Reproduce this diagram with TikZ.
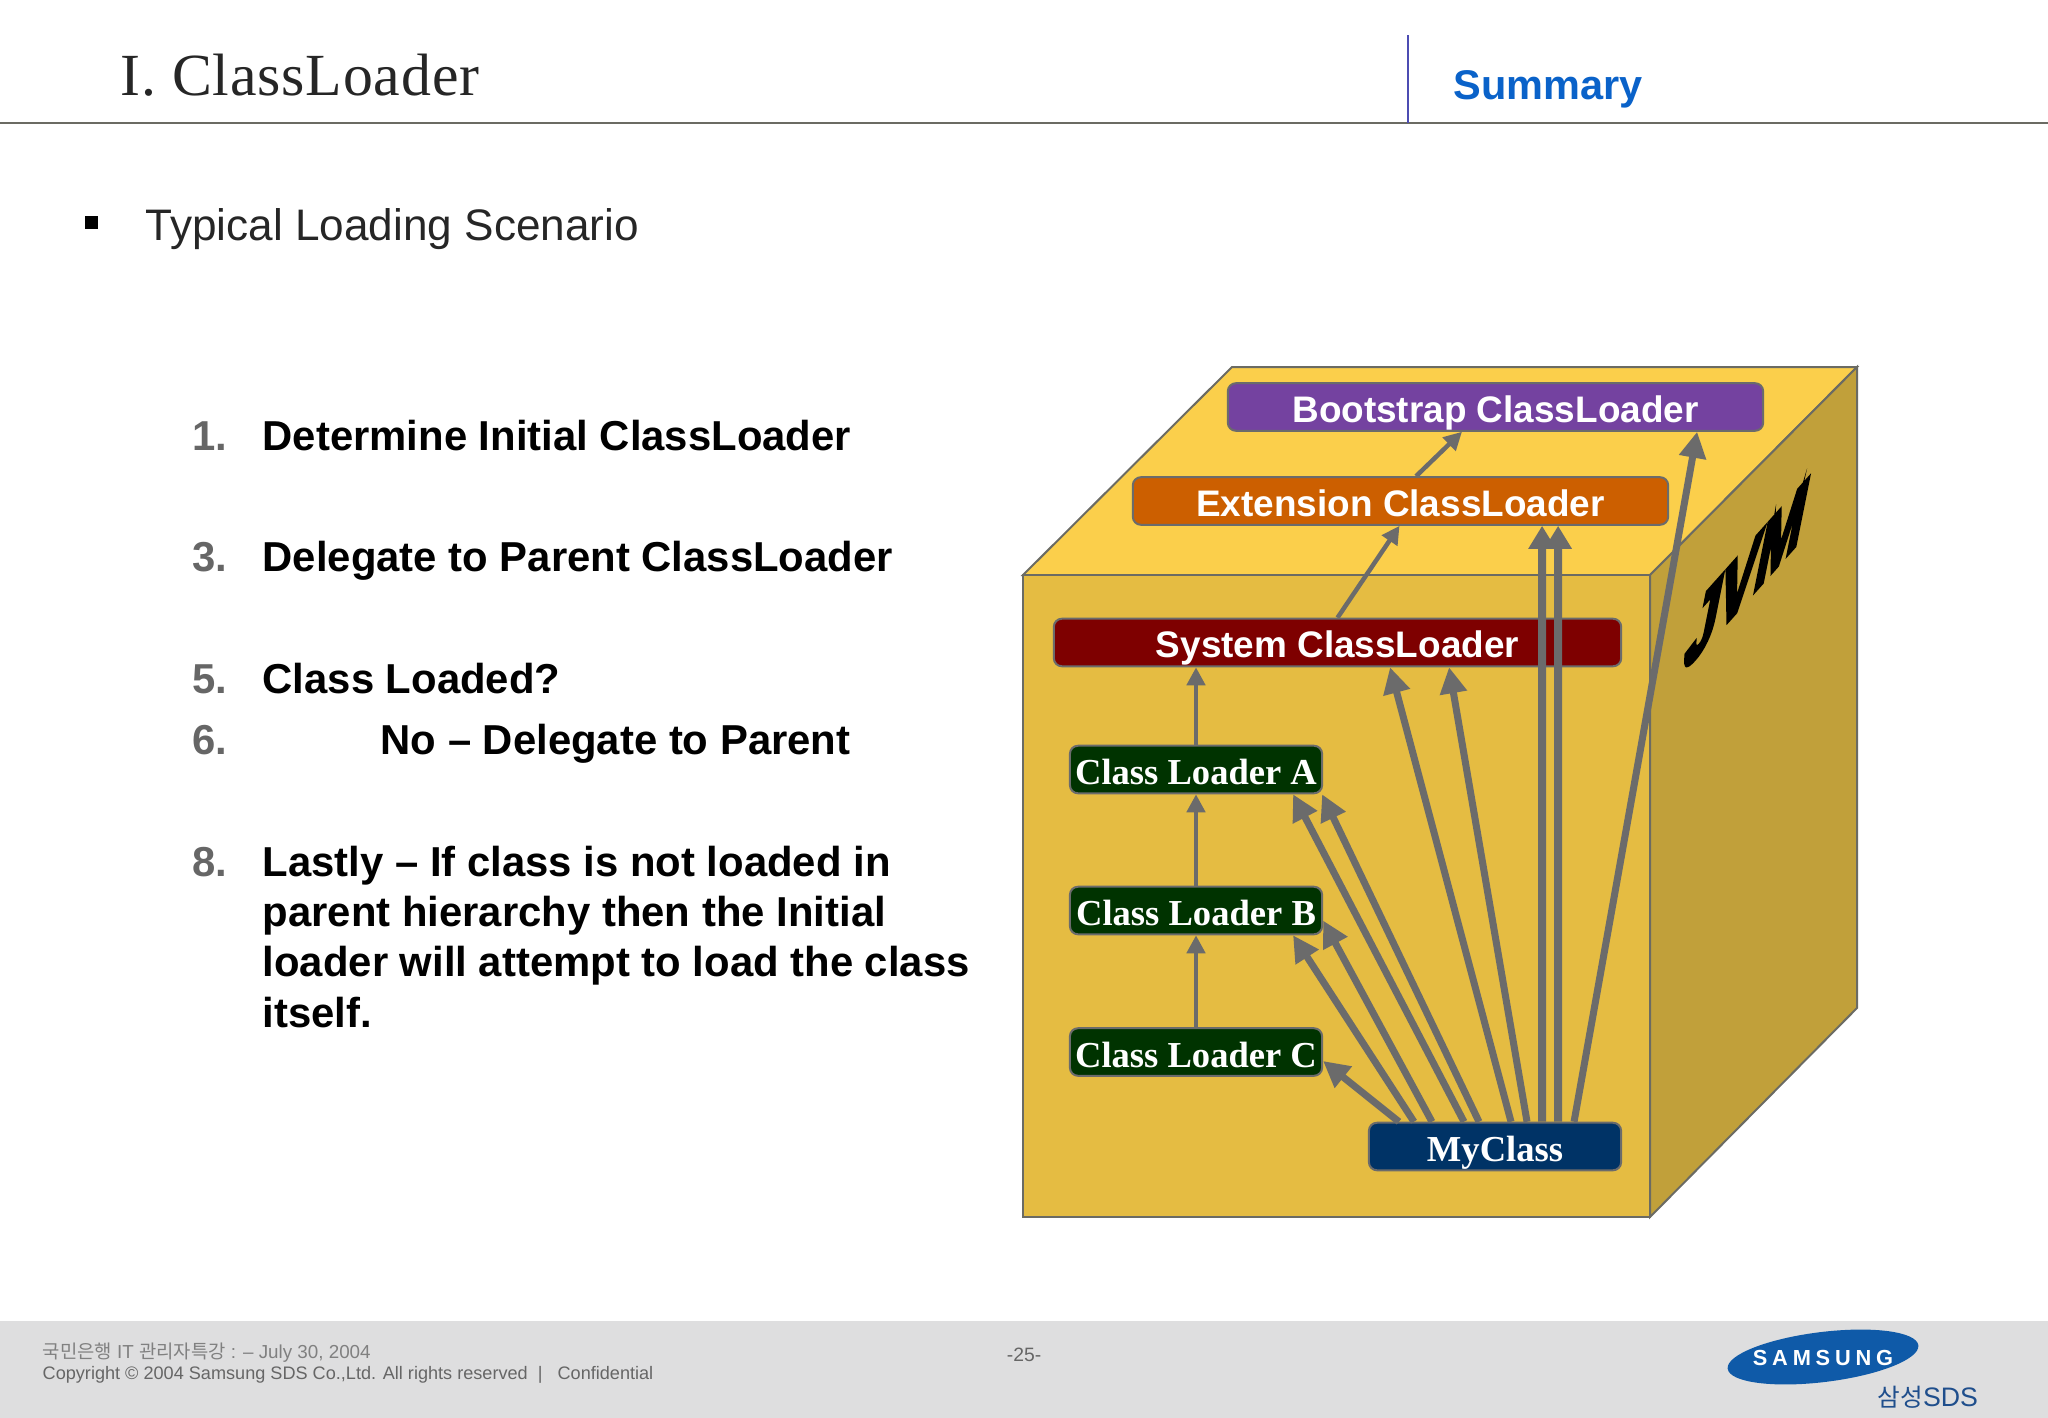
\documentclass[tikz,border=0pt]{standalone}
\usepackage{fontspec}
\setmainfont{Liberation Sans}
\newfontfamily\serifface{Liberation Serif}
\newfontfamily\titleface[LetterSpace=1.4]{Liberation Serif}
\newfontfamily\krface{Noto Sans CJK KR}
\newfontfamily\logoface[LetterSpace=22]{Liberation Sans}
\newfontfamily\jvmface[BoldFeatures={FakeBold=6}]{Liberation Sans}
\usetikzlibrary{arrows.meta, shapes.geometric}
\definecolor{faceTop}{HTML}{FBCF4B}
\definecolor{faceFront}{HTML}{E5BC42}
\definecolor{faceSide}{HTML}{C1A03A}
\definecolor{edgeGrey}{HTML}{6B6B63}
\definecolor{arrowGrey}{HTML}{6B6B6B}
\definecolor{numGrey}{HTML}{666666}
\definecolor{footGrey}{HTML}{DEDEDF}
\definecolor{logoBlue}{HTML}{0F5AA8}
\definecolor{sdsBlue}{HTML}{1F4E8C}
\definecolor{headBlue}{HTML}{0A62C9}
\definecolor{bootFill}{HTML}{7442A0}
\definecolor{extFill}{HTML}{CC5F00}
\definecolor{sysFill}{HTML}{7E0000}
\definecolor{clFill}{HTML}{003300}
\definecolor{myFill}{HTML}{003366}
\tikzset{
  loader/.style={draw=arrowGrey, line width=0.02cm, rounded corners=0.08cm, text=white, inner sep=0pt, minimum height=0.475cm, text height=0.31cm, text depth=0.01cm},
  sansbox/.style={loader, minimum width=5.35cm, font=\fontsize{10.5}{12}\selectfont\bfseries},
  serifbox/.style={loader, minimum width=2.52cm, font=\fontsize{10.4}{12}\serifface\bfseries},
  listnum/.style={anchor=base west, inner sep=0pt, text=numGrey, font=\fontsize{11.9}{14.3}\selectfont\bfseries},
  listtxt/.style={anchor=base west, inner sep=0pt, font=\fontsize{11.9}{14.3}\selectfont\bfseries},
  footer/.style={anchor=base west, inner sep=0pt, text=black!60, font=\fontsize{5.15}{6.5}\selectfont},
  thinarrow/.style={draw=arrowGrey, line width=0.045cm, -{Triangle[length=0.18cm,width=0.18cm]}},
  midarrow/.style={draw=arrowGrey, line width=0.07cm, -{Triangle[length=0.26cm,width=0.26cm]}},
  widearrow/.style={draw=arrowGrey, line width=0.08cm, -{Triangle[length=0.23cm,width=0.26cm]}}
}
\begin{document}
\begin{tikzpicture}[x=0.01cm, y=-0.01cm]
  \useasboundingbox (0,0) rectangle (2048,1418);

  % Header
  \draw[edgeGrey, line width=0.02cm] (0,123) -- (2048,123);
  \draw[blue!40!gray, line width=0.02cm] (1408,35) -- (1408,123);
  \node[anchor=base west, inner sep=0pt, font=\fontsize{17}{20}\titleface, text=black!85] (title) at (120,95) {I. ClassLoader};
  \node[anchor=base west, inner sep=0pt, font=\fontsize{11.8}{14}\selectfont\bfseries, text=headBlue] (summary) at (1453,99) {Summary};
  \fill[black] (85,216) rectangle (98,229);
  \node[anchor=base west, inner sep=0pt, font=\fontsize{12.55}{15}\selectfont, text=black!85] (scenario) at (145,240) {Typical Loading Scenario};

  % Steps
  \node[listnum] (n1) at (192,450) {1.};
  \node[listtxt] (t1) at (262,450) {Determine Initial ClassLoader};
  \node[listnum] (n3) at (192,571) {3.};
  \node[listtxt] (t3) at (262,571) {Delegate to Parent ClassLoader};
  \node[listnum] (n5) at (192,693) {5.};
  \node[listtxt] (t5) at (262,693) {Class Loaded?};
  \node[listnum] (n6) at (192,754) {6.};
  \node[listtxt] (t6) at (380,754) {No -- Delegate to Parent};
  \node[listnum] (n8) at (192,876) {8.};
  \node[listtxt] (t8a) at (262,876) {Lastly -- If class is not loaded in};
  \node[listtxt] (t8b) at (262,926) {parent hierarchy then the Initial};
  \node[listtxt] (t8c) at (262,976) {loader will attempt to load the class};
  \node[listtxt] (t8d) at (262,1027) {itself.};

  % Cube
  \fill[faceTop, draw=edgeGrey, line width=0.02cm] (1023,575) -- (1232,367) -- (1857,367) -- (1650,575) -- cycle;
  \fill[faceSide, draw=edgeGrey, line width=0.02cm] (1650,575) -- (1857,367) -- (1857,1008) -- (1650,1217) -- cycle;
  \fill[faceFront, draw=edgeGrey, line width=0.02cm] (1023,575) rectangle (1650,1217);
  \node[inner sep=0pt, font=\fontsize{28}{30}\jvmface\bfseries, cm={0.58,0.65,0.2,1,(0,0)}] (jvm) at (1747,574) {JVM};

  % Loaders
  \node[sansbox, fill=bootFill] (boot) at (1495.5,407) {Bootstrap ClassLoader};
  \node[sansbox, fill=extFill] (ext) at (1400.5,501) {Extension ClassLoader};
  \node[sansbox, fill=sysFill, minimum width=5.67cm] (sys) at (1337.5,642.5) {System ClassLoader};
  \node[serifbox, fill=clFill] (cla) at (1196,769.5) {Class Loader A};
  \node[serifbox, fill=clFill] (clb) at (1196,910.5) {Class Loader B};
  \node[serifbox, fill=clFill] (clc) at (1196,1052) {Class Loader C};
  \node[serifbox, fill=myFill] (my) at (1495,1146.5) {MyClass};

  % Parent links
  \draw[thinarrow] (clc.north) -- (clb.south);
  \draw[thinarrow] (clb.north) -- (cla.south);
  \draw[thinarrow] (cla.north) -- (sys.south -| cla.north);
  \draw[thinarrow] (sys.north) -- ([xshift=0.62cm]sys.north |- ext.south);
  \draw[thinarrow] ([xshift=0.155cm]ext.north) -- ([xshift=-0.335cm]boot.south);

  % MyClass links
  \draw[midarrow] ([xshift=-0.96cm]my.north) -- ([yshift=-0.09cm]clc.east);
  \draw[midarrow] ([xshift=-0.81cm]my.north) -- ([xshift=0.97cm]clb.south);
  \draw[midarrow] ([xshift=-0.63cm]my.north) -- ([yshift=-0.1cm]clb.east);
  \draw[midarrow] ([xshift=-0.31cm]my.north) -- ([xshift=0.97cm]cla.south);
  \draw[midarrow] ([xshift=-0.16cm]my.north) -- ([xshift=1.26cm]cla.south);
  \draw[midarrow] ([xshift=0.16cm]my.north) -- ([xshift=0.525cm]sys.south);
  \draw[midarrow] ([xshift=0.32cm]my.north) -- ([xshift=1.115cm]sys.south);
  \draw[widearrow] ([xshift=0.47cm]my.north) -- ([xshift=1.415cm]ext.south);
  \draw[widearrow] ([xshift=0.63cm]my.north) -- ([xshift=1.575cm]ext.south);
  \draw[midarrow] ([xshift=0.79cm]my.north) -- ([xshift=2.015cm]boot.south);

  % Footer
  \fill[footGrey] (0,1321) rectangle (2048,1418);
  \node[footer, text=black!50, font=\fontsize{5.35}{6.5}\selectfont] (kr) at (42,1358) {{\krface 국민은행} IT {\krface 관리자특강} : -- July 30, 2004};
  \node[footer] (copy) at (42,1379) {Copyright © 2004 Samsung SDS Co.,Ltd. All rights reserved~~|~~ Confidential};
  \node[inner sep=0pt, font=\fontsize{5.5}{6.5}\selectfont, text=black!60] (page) at (1024,1355) {-25-};

  % Logo
  \node[ellipse, fill=logoBlue, inner sep=0pt, minimum width=1.92cm, minimum height=0.5cm, rotate=7] (logo) at (1823,1357) {};
  \node[inner sep=0pt, text=white, font=\fontsize{6.2}{7}\logoface\bfseries] (brand) at (1823,1358) {SAMSUNG};
  \node[anchor=base west, inner sep=0pt, text=sdsBlue, font=\fontsize{7.6}{10}\selectfont] (sds) at (1877,1406) {{\krface\fontsize{7}{10}\selectfont 삼성}SDS};
\end{tikzpicture}
\end{document}
